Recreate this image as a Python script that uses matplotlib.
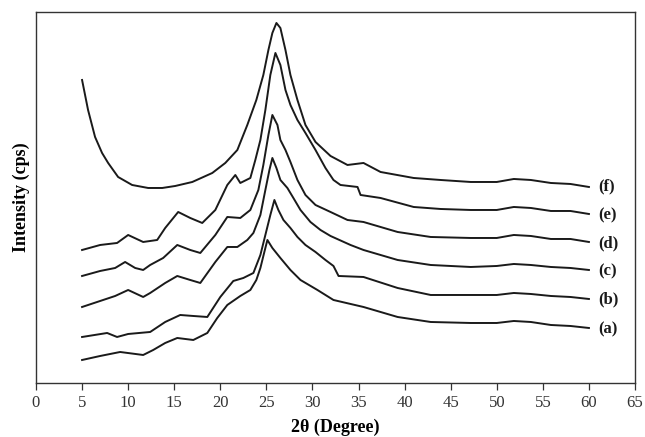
import matplotlib
matplotlib.use("Agg")
import matplotlib.pyplot as plt

plt.rcParams['font.family'] = ['Liberation Serif', 'DejaVu Serif']

# 2-theta (degree) and intensity (arbitrary, offset stacked)
f_x = [5.00, 5.65, 6.41, 7.17, 7.83, 8.91, 10.43, 12.17, 13.70, 15.11, 16.96, 19.13, 20.54, 21.85,
       22.93, 23.91, 24.67, 25.22, 25.65, 26.09, 26.52, 27.07, 27.61, 28.37, 29.24, 30.33, 31.96,
       33.80, 35.54, 37.39, 40.98, 43.9, 47.17, 50.0, 51.85, 53.7, 55.87, 58.0, 60.0]
f_y = [303, 273, 246, 230, 220, 206, 198, 195, 195, 197, 201, 210, 220, 233,
       258, 283, 308, 333, 350, 360, 355, 333, 308, 283, 258, 241, 227,
       218, 220, 211, 205, 203, 201, 201, 204, 203, 200, 199, 196]

e_x = [5.00, 6.96, 8.80, 10.0, 11.63, 13.15, 14.02, 15.43, 16.74, 18.04, 19.46, 20.76, 21.63, 22.17,
       23.26, 23.80, 24.35, 24.89, 25.43, 25.98, 26.52, 27.07, 27.61, 28.37, 29.24, 30.33, 31.41,
       32.28, 33.04, 34.89, 35.22, 37.39, 40.98, 43.9, 47.17, 50.0, 51.85, 53.7, 55.87, 58.0, 60.0]
e_y = [133, 138, 140, 148, 141, 143, 155, 171, 165, 160, 173, 198, 208, 200,
       205, 223, 243, 273, 308, 330, 318, 293, 278, 263, 250, 233, 215,
       203, 198, 196, 188, 185, 176, 174, 173, 173, 176, 175, 172, 172, 169]

d_x = [5.00, 6.96, 8.59, 9.67, 10.76, 11.63, 12.39, 13.80, 15.33, 16.74, 17.83, 19.46, 20.76, 22.17,
       23.26, 24.13, 24.67, 25.22, 25.65, 26.20, 26.52, 27.07, 27.61, 28.37, 29.24, 30.33, 31.96,
       33.80, 35.54, 39.24, 42.83, 47.17, 50.0, 51.85, 53.7, 55.87, 58.0, 60.0]
d_y = [107, 112, 115, 121, 115, 113, 118, 125, 138, 133, 130, 148, 166, 165,
       173, 193, 218, 248, 268, 258, 243, 233, 221, 203, 188, 178, 171,
       163, 161, 151, 146, 145, 145, 148, 147, 144, 144, 141]

c_x = [5.00, 6.96, 8.59, 10.0, 11.63, 12.39, 14.02, 15.33, 16.74, 17.83, 19.46, 20.76, 21.85, 22.93,
       23.59, 24.35, 24.89, 25.33, 25.65, 26.09, 26.52, 27.28, 27.93, 28.70, 29.78, 30.87, 31.96,
       34.13, 35.54, 39.24, 42.83, 47.17, 50.0, 51.85, 53.7, 55.87, 58.0, 60.0]
c_y = [76, 82, 87, 93, 86, 90, 100, 107, 103, 100, 121, 136, 136, 143,
       150, 168, 193, 213, 225, 215, 203, 195, 185, 173, 161, 153, 147,
       138, 133, 123, 118, 116, 117, 119, 118, 116, 115, 113]

b_x = [5.00, 7.72, 8.80, 10.0, 12.39, 14.02, 15.65, 17.07, 18.59, 20.0, 21.41, 22.50, 23.59, 24.35,
       24.89, 25.43, 25.87, 26.30, 26.85, 27.61, 28.37, 29.24, 30.33, 31.41, 32.28, 32.83, 35.54,
       39.24, 42.83, 47.17, 50.0, 51.85, 53.7, 55.87, 58.0, 60.0]
b_y = [46, 50, 46, 49, 51, 61, 68, 67, 66, 86, 102, 105, 110, 128,
       148, 168, 183, 173, 163, 155, 146, 138, 131, 123, 117, 107, 106,
       95, 88, 88, 88, 90, 89, 87, 86, 84]

a_x = [5.00, 6.96, 9.13, 11.63, 12.72, 14.02, 15.33, 17.07, 18.59, 19.67, 20.76, 22.17, 23.26, 23.91,
       24.35, 24.78, 25.11, 25.65, 26.52, 27.61, 28.70, 30.54, 32.28, 35.54, 39.24, 42.83, 47.17,
       50.0, 51.85, 53.7, 55.87, 58.0, 60.0]
a_y = [23, 27, 31, 28, 33, 40, 45, 43, 50, 65, 78, 87, 93, 103,
       115, 131, 143, 135, 125, 113, 103, 93, 83, 76, 66, 61, 60,
       60, 62, 61, 58, 57, 55]

series_x = [a_x, b_x, c_x, d_x, e_x, f_x]
series_y = [a_y, b_y, c_y, d_y, e_y, f_y]
labels = ['(a)', '(b)', '(c)', '(d)', '(e)', '(f)']
label_pos = [54, 84, 112, 140, 168, 197]

xticks = list(range(0, 70, 5))

fig = plt.figure(figsize=(6.45, 4.37), dpi=100)
ax = fig.add_axes([0.0558, 0.1236, 0.9287, 0.849])

for xs, ys in zip(series_x, series_y):
    ax.plot(xs, ys, color='#1a1a1a', lw=1.4)

for lab, yv in zip(labels, label_pos):
    ax.text(61.0, yv, lab, fontsize=12, fontweight='bold', ha='left', va='center', color='#1a1a1a')

ax.set_xlim(0, 65)
ax.set_ylim(0, 371)
ax.set_xticks(xticks)
ax.set_xticklabels([str(t) for t in xticks], fontsize=12, color='#333333')
ax.set_yticks([])
ax.tick_params(axis='x', direction='out', length=5, width=0.9, colors='#333333', pad=4)
for sp in ax.spines.values():
    sp.set_color('#333333')
    sp.set_linewidth(1.0)

ax.set_xlabel('2θ (Degree)', fontsize=13, fontweight='bold', labelpad=5)
ax.set_ylabel('Intensity (cps)', fontsize=13, fontweight='bold', labelpad=4)

fig.savefig('out.png', dpi=100)
